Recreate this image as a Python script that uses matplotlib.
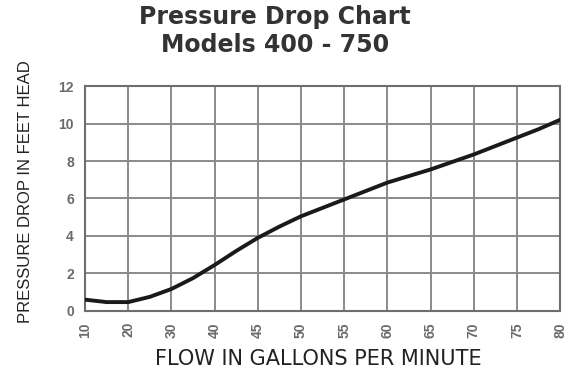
import numpy as np
import matplotlib
matplotlib.use("Agg")
import matplotlib.pyplot as plt

plt.rcParams['font.family'] = ['Liberation Sans', 'DejaVu Sans']

# tick labels along the flow axis (evenly spaced, not linear in flow)
tick_flows = [10, 20, 30, 40, 45, 50, 55, 60, 65, 70, 75, 80]

# curve read in flow (gpm) / pressure drop (ft head)
flow = [10, 15, 20, 25, 30, 35, 40, 42.5, 45, 47.5, 50, 52.5, 55, 57.5, 60,
        62.5, 65, 67.5, 70, 72.5, 75, 77.5, 80]
drop = [0.6, 0.47, 0.47, 0.75, 1.17, 1.75, 2.45, 3.2, 3.9, 4.5, 5.05, 5.5,
        5.95, 6.4, 6.85, 7.2, 7.55, 7.95, 8.35, 8.8, 9.25, 9.7, 10.2]

y_ticks = [0, 2, 4, 6, 8, 10, 12]

fig = plt.figure(figsize=(5.67, 3.71), dpi=100)
ax = fig.add_axes([0.150, 0.162, 0.838, 0.606])

pos = np.interp(flow, tick_flows, np.arange(len(tick_flows)))
ax.plot(pos, drop, color='#1a1a1a', lw=2.8, solid_capstyle='round', zorder=3)

ax.set_xlim(0, len(tick_flows) - 1)
ax.set_ylim(0, 12)
ax.set_xticks(np.arange(len(tick_flows)))
ax.set_xticklabels([str(f) for f in tick_flows], rotation=90)
ax.set_yticks(y_ticks)
ax.set_yticklabels([str(v) for v in y_ticks])

ax.grid(True, color='#8a8a8a', lw=1.4)
ax.set_axisbelow(True)
for s in ax.spines.values():
    s.set_color('#6e6e6e')
    s.set_linewidth(1.5)

ax.tick_params(length=0, labelsize=10, labelcolor='#6a6a6a')
ax.tick_params(axis='x', pad=8)
ax.tick_params(axis='y', pad=8)
for lab in ax.get_xticklabels() + ax.get_yticklabels():
    lab.set_fontweight('bold')

ax.set_xlabel('FLOW IN GALLONS PER MINUTE', fontsize=15, color='#222222',
              family=['DejaVu Sans'])
ax.xaxis.set_label_coords(0.49, -0.17)
ax.set_ylabel('PRESSURE DROP IN FEET HEAD', fontsize=12, color='#222222')
ax.yaxis.set_label_coords(-0.11, 0.53)

fig.text(0.485, 0.953, 'Pressure Drop Chart', ha='center', va='center',
         fontsize=17, fontweight='bold', color='#333333', family=['DejaVu Sans'])
fig.text(0.485, 0.880, 'Models 400 - 750', ha='center', va='center',
         fontsize=17, fontweight='bold', color='#333333', family=['DejaVu Sans'])

fig.savefig('out.png', dpi=100)
